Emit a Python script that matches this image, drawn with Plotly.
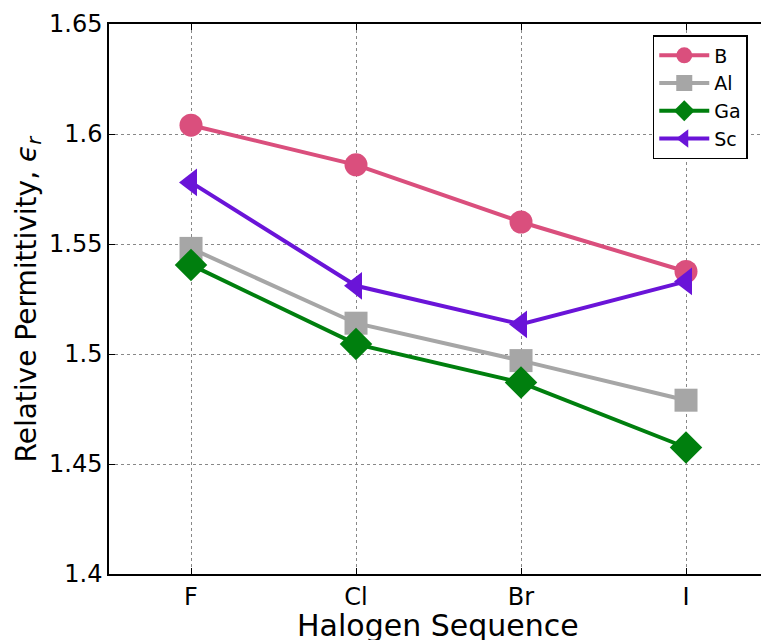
import plotly.graph_objects as go

categories = ["F", "Cl", "Br", "I"]
B = [1.604, 1.586, 1.560, 1.5375]
Al = [1.548, 1.514, 1.497, 1.479]
Ga = [1.5405, 1.5045, 1.487, 1.4575]
Sc = [1.578, 1.531, 1.5135, 1.533]
yticks = [1.4, 1.45, 1.5, 1.55, 1.6, 1.65]
yticklabels = ["1.4", "1.45", "1.5", "1.55", "1.6", "1.65"]
xtitle = "Halogen Sequence"
ytitle = "Relative Permittivity, <i>ϵ</i><sub><i>r</i></sub>"

xpos = list(range(len(categories)))

series = [
    ("B", B, "#DA4F7D", "circle", 23),
    ("Al", Al, "#A6A6A6", "square", 23),
    ("Ga", Ga, "#007F0E", "diamond", 25),
    ("Sc", Sc, "#6A14D8", "triangle-left", 24),
]

fig = go.Figure()
for name, vals, color, sym, size in series:
    fig.add_trace(go.Scatter(
        x=xpos, y=vals, name=name, mode="lines+markers",
        line=dict(color=color, width=4),
        marker=dict(symbol=sym, size=size, color=color, line=dict(width=0)),
    ))

fig.update_layout(
    width=761, height=640,
    margin=dict(l=109, r=0, t=24, b=66, autoexpand=False),
    paper_bgcolor="white", plot_bgcolor="white",
    font=dict(family="DejaVu Sans", color="black"),
    showlegend=True,
    legend=dict(
        x=0.834, y=0.98, xanchor="left", yanchor="top",
        bordercolor="black", borderwidth=1.5, bgcolor="white",
        font=dict(size=19), itemwidth=50, tracegroupgap=0,
    ),
    xaxis=dict(
        range=[-0.497, 3.4545], tickvals=xpos, ticktext=categories,
        showline=True, linecolor="black", linewidth=1.5, mirror="ticks",
        ticks="inside", ticklen=6, tickcolor="black", automargin=False,
        showgrid=True, gridcolor="#888888", griddash="dot", gridwidth=1,
        zeroline=False, tickfont=dict(size=24),
    ),
    yaxis=dict(
        range=[1.4, 1.65], tickvals=yticks, ticktext=yticklabels,
        showline=True, linecolor="black", linewidth=1.5, mirror=False,
        ticks="inside", ticklen=6, tickcolor="black", automargin=False,
        showgrid=True, gridcolor="#888888", griddash="dot", gridwidth=1,
        zeroline=False, tickfont=dict(size=24),
    ),
    annotations=[
        dict(text=xtitle, xref="paper", yref="paper", x=0.505, y=-0.06,
             xanchor="center", yanchor="top", showarrow=False,
             font=dict(size=30), borderpad=0),
        dict(text=ytitle, xref="paper", yref="paper", x=-0.125, y=0.5,
             xanchor="center", yanchor="middle", textangle=-90, showarrow=False,
             font=dict(size=28), borderpad=0),
    ],
)

fig.write_html("out.html")
